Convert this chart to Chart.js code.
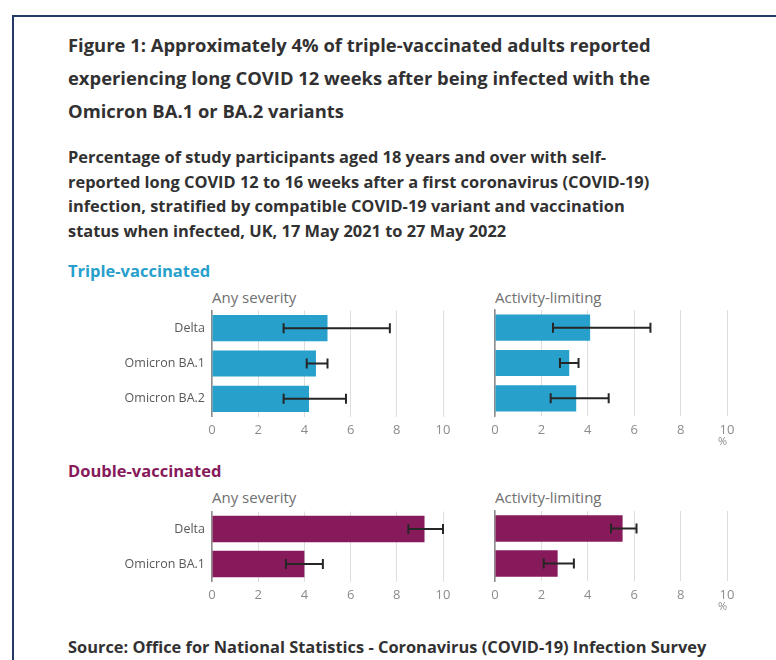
<!DOCTYPE html>
<html>
<head>
<meta charset="utf-8">
<script src="https://cdn.jsdelivr.net/npm/chart.js@4/dist/chart.umd.min.js"></script>
<style>
  body { margin: 0; width: 776px; height: 660px; overflow: hidden; background: #fff; font-family: "Open Sans", sans-serif; position: relative; }
  .frame { position: absolute; left: 12px; top: 15px; width: 820px; height: 700px; border-left: 2px solid #243a66; border-top: 2px solid #243a66; }
  .t { position: absolute; left: 68px; white-space: nowrap; color: #323132; }
  .title { top: 28px; font-size: 18.4px; font-weight: 700; line-height: 33px; }
  .sub { top: 145px; font-size: 16.4px; font-weight: 700; line-height: 24.5px; }
  .group { font-size: 16.5px; font-weight: 700; line-height: 22px; }
  .panel { position: absolute; font-size: 15px; line-height: 20px; color: #707070; white-space: nowrap; }
  .src { top: 636px; font-size: 16.4px; font-weight: 700; line-height: 22px; }
  canvas { position: absolute; left: 0; top: 0; }
</style>
</head>
<body>
<div class="frame"></div>
<div class="t title">Figure 1: Approximately 4% of triple-vaccinated adults reported<br>experiencing long COVID 12 weeks after being infected with the<br>Omicron BA.1 or BA.2 variants</div>
<div class="t sub">Percentage of study participants aged 18 years and over with self-<br>reported long COVID 12 to 16 weeks after a first coronavirus (COVID-19)<br>infection, stratified by compatible COVID-19 variant and vaccination<br>status when infected, UK, 17 May 2021 to 27 May 2022</div>

<div class="t group" style="top:260px; color:#27a0cc;">Triple-vaccinated</div>
<div class="panel" style="left:212px; top:287px;">Any severity</div>
<div class="panel" style="left:495px; top:287px;">Activity-limiting</div>

<div class="t group" style="top:460px; color:#871a5b;">Double-vaccinated</div>
<div class="panel" style="left:212px; top:487px;">Any severity</div>
<div class="panel" style="left:495px; top:487px;">Activity-limiting</div>

<canvas id="c1" width="400" height="150"></canvas>
<canvas id="c2" width="270" height="150"></canvas>
<canvas id="c3" width="400" height="115"></canvas>
<canvas id="c4" width="270" height="115"></canvas>

<div class="t src">Source: Office for National Statistics - Coronavirus (COVID-19) Infection Survey</div>

<script>
const tripleCategories = ['Delta', 'Omicron BA.1', 'Omicron BA.2'];
const doubleCategories = ['Delta', 'Omicron BA.1'];

const tripleAny = [5.0, 4.5, 4.2];
const tripleAnyLow = [3.1, 4.1, 3.1];
const tripleAnyHigh = [7.7, 5.0, 5.8];

const tripleAct = [4.1, 3.2, 3.5];
const tripleActLow = [2.5, 2.8, 2.4];
const tripleActHigh = [6.7, 3.6, 4.9];

const doubleAny = [9.2, 4.0];
const doubleAnyLow = [8.5, 3.2];
const doubleAnyHigh = [10.0, 4.8];

const doubleAct = [5.5, 2.7];
const doubleActLow = [5.0, 2.1];
const doubleActHigh = [6.1, 3.4];

const xMin = 0, xMax = 10, xStep = 2;

// draws confidence intervals on top of the bars
const errorBars = {
  id: 'errorBars',
  afterDatasetsDraw(chart) {
    const ctx = chart.ctx;
    const x = chart.scales.x;
    const ds = chart.data.datasets[0];
    const meta = chart.getDatasetMeta(0);
    ctx.save();
    ctx.strokeStyle = '#262626';
    ctx.lineWidth = 2;
    meta.data.forEach(function(bar, i) {
      const y = bar.y;
      const x1 = x.getPixelForValue(ds.low[i]);
      const x2 = x.getPixelForValue(ds.high[i]);
      ctx.beginPath();
      ctx.moveTo(x1, y); ctx.lineTo(x2, y);
      ctx.moveTo(x1, y - 5); ctx.lineTo(x1, y + 5);
      ctx.moveTo(x2, y - 5); ctx.lineTo(x2, y + 5);
      ctx.stroke();
    });
    ctx.restore();
  }
};

function makeChart(id, labels, values, low, high, colour, showLabels, barPct) {
  const ctx = document.getElementById(id).getContext('2d');
  return new Chart(ctx, {
    type: 'bar',
    data: {
      labels: labels,
      datasets: [{
        data: values,
        low: low,
        high: high,
        backgroundColor: colour,
        borderWidth: 0,
        barPercentage: barPct,
        categoryPercentage: 1
      }]
    },
    options: {
      indexAxis: 'y',
      responsive: false,
      maintainAspectRatio: false,
      animation: false,
      layout: { padding: { top: 8, right: 17, left: 0, bottom: 0 } },
      plugins: { legend: { display: false }, tooltip: { enabled: false } },
      scales: {
        x: {
          min: xMin,
          max: xMax,
          ticks: { stepSize: xStep, color: '#8c8c8c', padding: 6, font: { family: 'Open Sans', size: 13 } },
          grid: { color: '#dedede', drawTicks: false },
          border: { display: false },
          title: {
            display: !showLabels,
            text: '%',
            align: 'end',
            color: '#8c8c8c',
            padding: { top: 0, bottom: 0 },
            font: { family: 'Open Sans', size: 11 }
          },
          afterFit: function(scale) { scale.height = 32; }
        },
        y: {
          ticks: { display: showLabels, color: '#595959', padding: 7, font: { family: 'Open Sans', size: 12.5 } },
          grid: { display: false, drawTicks: false },
          border: { display: true, color: '#8c8c8c', width: 1.5 },
          afterFit: function(scale) { scale.width = showLabels ? 152 : 20; }
        }
      }
    },
    plugins: [errorBars]
  });
}

// size and move a canvas so its plot area sits on the given box
function place(chart, left, top, right, bottom) {
  let a = chart.chartArea;
  const w = chart.width + (right - left) - (a.right - a.left);
  const h = chart.height + (bottom - top) - (a.bottom - a.top);
  chart.resize(w, h);
  a = chart.chartArea;
  chart.canvas.style.left = (left - a.left) + 'px';
  chart.canvas.style.top = (top - a.top) + 'px';
}

const c1 = makeChart('c1', tripleCategories, tripleAny, tripleAnyLow, tripleAnyHigh, '#27a0cc', true, 0.74);
const c2 = makeChart('c2', tripleCategories, tripleAct, tripleActLow, tripleActHigh, '#27a0cc', false, 0.74);
const c3 = makeChart('c3', doubleCategories, doubleAny, doubleAnyLow, doubleAnyHigh, '#871a5b', true, 0.76);
const c4 = makeChart('c4', doubleCategories, doubleAct, doubleActLow, doubleActHigh, '#871a5b', false, 0.76);

place(c1, 212, 310, 443, 416);
place(c2, 495, 310, 727, 416);
place(c3, 212, 511, 443, 581);
place(c4, 495, 511, 727, 581);
</script>
</body>
</html>
